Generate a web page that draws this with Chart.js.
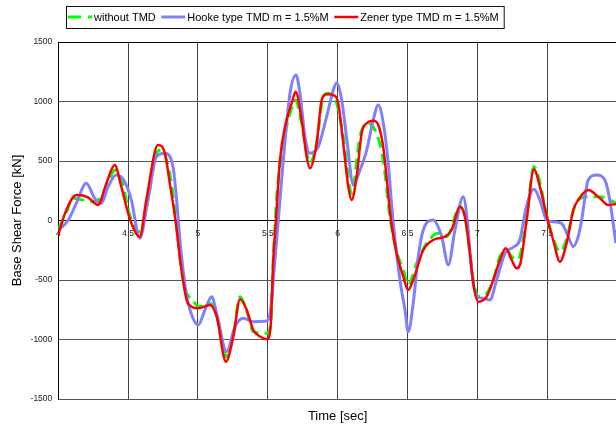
<!DOCTYPE html>
<html>
<head>
<meta charset="utf-8">
<script src="https://cdn.jsdelivr.net/npm/chart.js@4.4.0/dist/chart.umd.min.js"></script>
<style>
  html, body { margin: 0; padding: 0; background: #fff; overflow: hidden; }
  #wrap { position: relative; width: 620px; height: 428px; }
</style>
</head>
<body>
<div id="wrap"><canvas id="c" width="620" height="428"></canvas></div>
<script>
// Base shear force time histories (kN) versus time (s)
const timeTicks = [4, 4.5, 5, 5.5, 6, 6.5, 7, 7.5, 8];
const forceTicks = [-1500, -1000, -500, 0, 500, 1000, 1500];

const seriesNames = ['without TMD', 'Hooke type TMD m = 1.5%M', 'Zener type TMD m = 1.5%M'];

const noTmdT = [4.000, 4.046, 4.105, 4.177, 4.248, 4.308, 4.356, 4.404, 4.451, 4.511, 4.583, 4.642, 4.702, 4.737, 4.771, 4.807, 4.843, 4.880, 4.919, 4.955, 5.002, 5.086, 5.134, 5.200, 5.253, 5.301, 5.349, 5.396, 5.492, 5.520, 5.539, 5.566, 5.611, 5.659, 5.699, 5.742, 5.802, 5.850, 5.897, 5.933, 5.993, 6.040, 6.100, 6.160, 6.208, 6.267, 6.326, 6.378, 6.422, 6.470, 6.505, 6.566, 6.637, 6.720, 6.780, 6.876, 6.911, 6.947, 6.971, 7.006, 7.067, 7.114, 7.162, 7.210, 7.246, 7.281, 7.305, 7.353, 7.405, 7.448, 7.496, 7.543, 7.591, 7.639, 7.687, 7.722, 7.794, 7.878, 7.949, 7.992];
const noTmdV = [-65, 32, 186, 172, 158, 200, 312, 424, 354, 46, -94, 172, 565, 592, 520, 330, 0, -400, -612, -654, -724, -696, -800, -1144, -960, -640, -760, -934, -948, -880, -332, 228, 649, 901, 1013, 817, 481, 660, 1040, 1069, 985, 704, 228, 704, 817, 760, 508, 0, -260, -416, -542, -360, -192, -108, -136, 116, 32, -276, -500, -640, -612, -500, -304, -248, -304, -332, -300, 20, 452, 320, 40, -150, -262, -160, 80, 172, 200, 200, 172, 147];

const hookeT = [4.000, 4.069, 4.129, 4.200, 4.261, 4.308, 4.356, 4.415, 4.475, 4.523, 4.583, 4.642, 4.702, 4.762, 4.821, 4.880, 4.914, 4.943, 5.002, 5.050, 5.098, 5.134, 5.205, 5.265, 5.324, 5.396, 5.492, 5.520, 5.551, 5.575, 5.611, 5.659, 5.702, 5.730, 5.766, 5.802, 5.861, 5.921, 5.969, 5.993, 6.029, 6.069, 6.112, 6.160, 6.208, 6.255, 6.291, 6.331, 6.362, 6.396, 6.446, 6.482, 6.505, 6.541, 6.577, 6.613, 6.684, 6.745, 6.792, 6.840, 6.899, 6.928, 6.959, 6.995, 7.042, 7.090, 7.138, 7.198, 7.257, 7.305, 7.348, 7.405, 7.448, 7.496, 7.543, 7.603, 7.651, 7.687, 7.722, 7.747, 7.794, 7.854, 7.913, 7.944, 7.992];
const hookeV = [-80, 0, 144, 312, 186, 144, 284, 382, 326, 172, -150, 172, 536, 565, 452, -276, -600, -752, -878, -752, -640, -780, -1102, -892, -822, -850, -845, -752, -332, 0, 508, 1069, 1223, 1069, 704, 565, 620, 872, 1097, 1158, 1013, 649, 300, 424, 592, 845, 971, 788, 481, 0, -500, -752, -934, -696, -304, -80, 4, -136, -374, -80, 200, 4, -416, -640, -654, -668, -500, -276, -225, -160, 100, 262, 172, 4, -10, -24, -136, -220, -136, 4, 340, 382, 340, 200, -190];

const zenerT = [4.000, 4.048, 4.129, 4.213, 4.284, 4.344, 4.404, 4.451, 4.511, 4.583, 4.630, 4.714, 4.764, 4.800, 4.839, 4.880, 4.919, 4.955, 5.002, 5.086, 5.134, 5.200, 5.253, 5.301, 5.349, 5.396, 5.444, 5.496, 5.520, 5.539, 5.558, 5.587, 5.623, 5.671, 5.699, 5.742, 5.778, 5.802, 5.850, 5.886, 5.921, 5.981, 6.004, 6.040, 6.076, 6.100, 6.136, 6.172, 6.208, 6.255, 6.291, 6.326, 6.382, 6.422, 6.470, 6.505, 6.541, 6.613, 6.684, 6.768, 6.816, 6.876, 6.911, 6.947, 6.971, 7.006, 7.067, 7.114, 7.162, 7.203, 7.246, 7.281, 7.305, 7.353, 7.405, 7.448, 7.496, 7.543, 7.591, 7.639, 7.687, 7.722, 7.794, 7.878, 7.937, 7.992];
const zenerV = [-120, 60, 214, 195, 130, 312, 466, 284, 18, -136, 172, 634, 560, 300, 0, -400, -668, -724, -738, -710, -808, -1186, -976, -662, -752, -920, -975, -998, -892, -332, 0, 508, 788, 985, 1082, 845, 536, 439, 649, 1013, 1060, 1046, 985, 649, 284, 172, 368, 733, 817, 839, 803, 620, 0, -276, -472, -584, -500, -248, -164, -136, -80, 116, 32, -276, -528, -682, -640, -500, -332, -234, -332, -402, -374, 0, 430, 284, 40, -164, -346, -192, 88, 172, 256, 186, 130, 139];

const FONT = '"Liberation Sans", Arial, Helvetica, sans-serif';
Chart.defaults.font.family = FONT;
Chart.defaults.color = '#000';

const zip = (ts, vs) => ts.map((t, i) => ({ x: t, y: vs[i] }));

// Boxed legend row above the plot
const legendBox = {
  id: 'legendBox',
  afterDraw(chart) {
    const ctx = chart.ctx;
    const sets = chart.data.datasets;
    ctx.save();
    ctx.font = '11px ' + FONT;
    const boxL = 66, boxT = 6, boxH = 22, sampleW = 24;
    const midY = boxT + boxH / 2;
    let x = boxL + 2;
    const parts = sets.map(ds => {
      const item = { ds, sx: x };
      x += sampleW + 2;
      item.tx = x;
      x += ctx.measureText(ds.label).width + 5.5;
      return item;
    });
    const boxW = x - boxL - 0.5;
    ctx.fillStyle = '#fff';
    ctx.fillRect(boxL, boxT, boxW, boxH);
    ctx.strokeStyle = '#111';
    ctx.lineWidth = 1;
    ctx.strokeRect(boxL + 0.5, boxT + 0.5, boxW, boxH);
    parts.forEach(p => {
      ctx.beginPath();
      ctx.strokeStyle = p.ds.borderColor;
      ctx.lineWidth = p.ds.borderWidth;
      ctx.setLineDash(p.ds.legendDash || []);
      ctx.moveTo(p.sx, midY);
      ctx.lineTo(p.sx + sampleW, midY);
      ctx.stroke();
      ctx.setLineDash([]);
      ctx.fillStyle = '#000';
      ctx.textBaseline = 'middle';
      ctx.textAlign = 'left';
      ctx.fillText(p.ds.label, p.tx, midY + 0.5);
    });
    ctx.restore();
  }
};

new Chart(document.getElementById('c'), {
  type: 'line',
  data: {
    datasets: [
      {
        label: seriesNames[0],
        data: zip(noTmdT, noTmdV),
        borderColor: '#00ff00',
        borderWidth: 3,
        borderDash: [11, 6],
        legendDash: [13, 7],
        order: 2
      },
      {
        label: seriesNames[1],
        data: zip(hookeT, hookeV),
        borderColor: '#8080ff',
        borderWidth: 3,
        order: 1
      },
      {
        label: seriesNames[2],
        data: zip(zenerT, zenerV),
        borderColor: '#ff0000',
        borderWidth: 2.5,
        order: 0
      }
    ]
  },
  options: {
    responsive: false,
    animation: false,
    events: [],
    devicePixelRatio: 1,
    layout: { padding: { top: 42, right: 3, bottom: 0, left: 0 } },
    elements: {
      point: { radius: 0 },
      line: { cubicInterpolationMode: 'monotone', fill: false, borderCapStyle: 'butt' }
    },
    plugins: {
      legend: { display: false },
      tooltip: { enabled: false }
    },
    scales: {
      x: {
        type: 'linear',
        position: 'bottom',
        min: 4,
        max: 8,
        afterBuildTicks: s => { s.ticks = timeTicks.map(v => ({ value: v })); },
        afterFit: s => { s.height = 29; s.paddingLeft = 0; s.paddingRight = 0; },
        ticks: { display: false },
        grid: { color: '#444', lineWidth: 1, drawTicks: false },
        border: { display: true, color: '#555', width: 1 },
        title: {
          display: true,
          text: 'Time [sec]',
          font: { size: 13 },
          padding: { top: 0, bottom: 4 }
        }
      },
      x2: {
        type: 'linear',
        position: { y: 0 },
        min: 4,
        max: 8,
        afterBuildTicks: s => { s.ticks = timeTicks.map(v => ({ value: v })); },
        afterFit: s => { s.paddingLeft = 0; s.paddingRight = 0; },
        ticks: {
          font: { size: 8.5 },
          color: '#222',
          padding: 8,
          maxRotation: 0,
          autoSkip: false,
          callback: v => String(v)
        },
        grid: { display: false, drawTicks: false },
        border: { display: true, color: '#000', width: 1 }
      },
      y: {
        type: 'linear',
        position: 'left',
        min: -1500,
        max: 1500,
        afterBuildTicks: s => { s.ticks = forceTicks.map(v => ({ value: v })); },
        afterFit: s => { s.width = 58.3; },
        ticks: {
          font: { size: 8.5 },
          color: '#222',
          padding: 6,
          callback: v => String(v)
        },
        grid: {
          drawTicks: false,
          lineWidth: 1,
          color: c => (c.tick && (c.tick.value === 0 || c.tick.value === 1500)) ? '#000' : '#555'
        },
        border: { display: true, color: '#000', width: 1 },
        title: {
          display: true,
          text: 'Base Shear Force [kN]',
          font: { size: 13 },
          padding: { top: 10, bottom: 0 }
        }
      }
    }
  },
  plugins: [legendBox]
});
</script>
</body>
</html>
